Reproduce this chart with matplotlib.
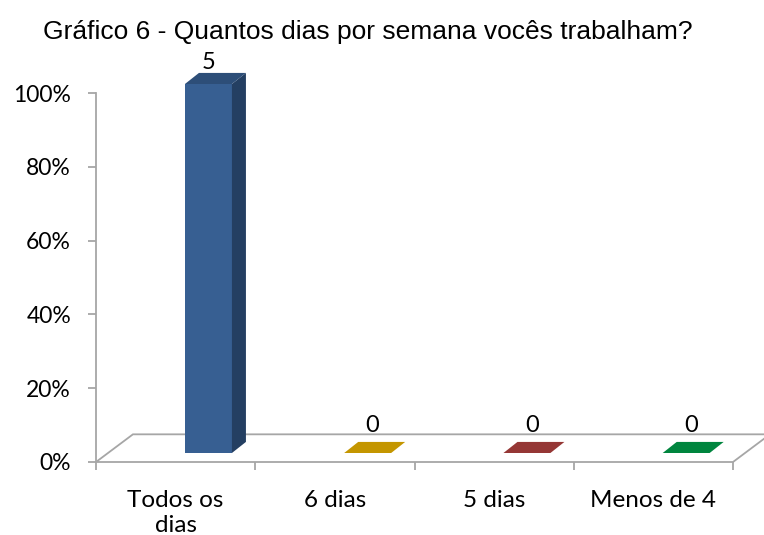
import matplotlib.pyplot as plt
from matplotlib.patches import Polygon
from matplotlib.ticker import PercentFormatter

# dados do gráfico
categorias = ['Todos os\ndias', '6 dias', '5 dias', 'Menos de 4']
respostas = [5, 0, 0, 0]
cores_frente = ['#375f92', '#c49600', '#953735', '#00853e']
cores_lado = ['#243f62', '#a07a00', '#7a2c2b', '#006b32']
cores_topo = ['#2d4e78', '#c49600', '#953735', '#00853e']

total = sum(respostas)
percentuais = [r / total for r in respostas]

# profundidade do "3D" em unidades de dados
piso_dx, piso_dy = 0.232, 0.075
barra_dx, barra_dy = 0.088, 0.030
desloc_x, base = 0.206, 0.0244
largura = 0.295
cinza = '#a6a6a6'

fig = plt.figure(figsize=(7.64, 5.35), dpi=100)
ax = fig.add_axes([96 / 764, (535 - 462) / 535, (733 - 96) / 764, 369 / 535])
ax.set_xlim(-0.5, len(categorias) - 0.5)
ax.set_ylim(0, 1)

# piso
n = len(categorias)
piso = Polygon([(-0.5, 0), (n - 0.5, 0), (n - 0.5 + piso_dx, piso_dy),
                (-0.5 + piso_dx, piso_dy)], closed=True, facecolor='white',
               edgecolor=cinza, linewidth=1.3, clip_on=False, zorder=1)
ax.add_patch(piso)

# barras
xs = [i + desloc_x for i in range(n)]
barras = ax.bar(xs, percentuais, width=largura, bottom=base, color=cores_frente,
                linewidth=0, zorder=3)
for b in barras:
    b.set_clip_on(False)
for x, p, cl, ct, r in zip(xs, percentuais, cores_lado, cores_topo, respostas):
    x0, x1 = x - largura / 2, x + largura / 2
    topo = base + p
    if p > 0:
        ax.add_patch(Polygon([(x1, base), (x1 + barra_dx, base + barra_dy),
                              (x1 + barra_dx, topo + barra_dy), (x1, topo)],
                             facecolor=cl, linewidth=0, clip_on=False, zorder=3))
    ax.add_patch(Polygon([(x0, topo), (x1, topo), (x1 + barra_dx, topo + barra_dy),
                          (x0 + barra_dx, topo + barra_dy)],
                         facecolor=ct, linewidth=0, clip_on=False, zorder=3))
    ax.text(x + 0.03 if p == 0 else x, topo + barra_dy + (0.017 if p == 0 else 0.0),
            str(r), ha='center', va='bottom', fontsize=17, family='Lato',
            clip_on=False)

# eixos
for s in ['top', 'right', 'bottom']:
    ax.spines[s].set_visible(False)
ax.spines['left'].set_color(cinza)
ax.spines['left'].set_linewidth(1.3)
ax.set_yticks([0, 0.2, 0.4, 0.6, 0.8, 1.0])
ax.yaxis.set_major_formatter(PercentFormatter(1.0, decimals=0))
ax.set_xticks([i - 0.5 for i in range(n + 1)])
ax.set_xticklabels([])
ax.set_xticks(range(n), minor=True)
ax.set_xticklabels(categorias, minor=True, family='Lato', fontsize=17.5,
                   linespacing=1.25, va='top')
ax.tick_params(axis='x', which='minor', length=0, pad=20)
ax.tick_params(axis='both', which='major', length=6, width=1.3, color=cinza,
               direction='out')
ax.tick_params(axis='y', labelsize=16.5, pad=12)
for t in ax.get_yticklabels():
    t.set_family('Lato')

fig.text(0.482, 0.94, 'Gráfico 6 - Quantos dias por semana vocês trabalham?',
         ha='center', va='center', fontsize=19, family='Liberation Sans')

fig.savefig('out.png', dpi=100)
